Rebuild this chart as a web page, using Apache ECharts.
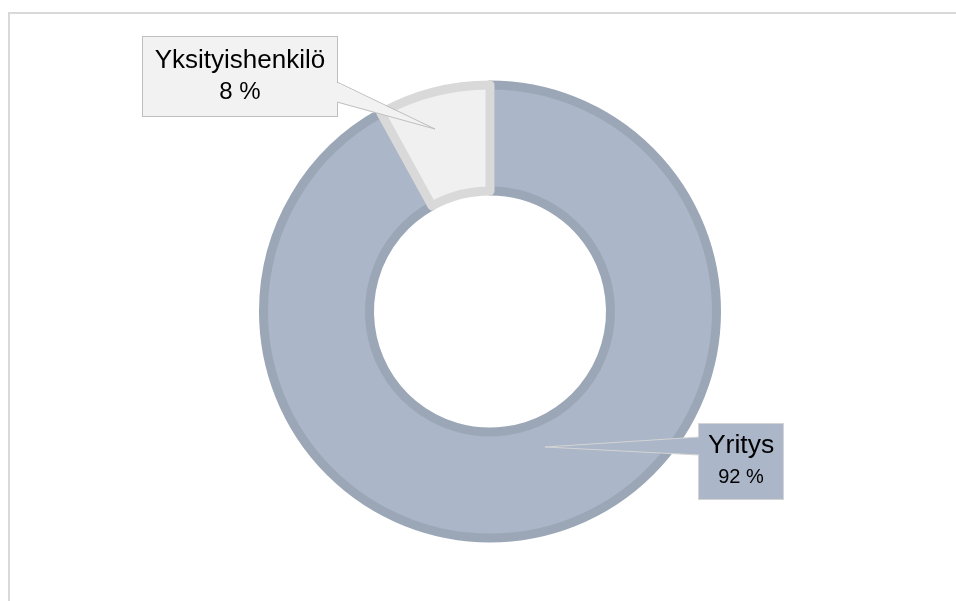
<!DOCTYPE html>
<html>
<head>
<meta charset="utf-8">
<script src="https://cdn.jsdelivr.net/npm/echarts@6/dist/echarts.min.js"></script>
<style>
html,body{margin:0;padding:0;background:#fff;}
#chart{width:956px;height:601px;}
</style>
</head>
<body>
<div id="chart"></div>
<script>
const categories = ['Yritys', 'Yksityishenkilö'];
const values = [92, 8];
const valueSuffix = ' %';

const fills = ['#ABB6C8', '#F0F0F0'];
const borders = ['#9BA7B6', '#D9D9D9'];
const labelBoxes = [
  { bg: '#ABB6C8', border: '#D4D4D4', w: 84, h: 75, nameSize: 26.5, valueSize: 20, lh: 31 },
  { bg: '#F2F2F2', border: '#BFBFBF', w: 194, h: 79, nameSize: 26, valueSize: 24, lh: 32 }
];
const labelCenters = [[741, 461.5], [240, 76.5]];

const chart = echarts.init(document.getElementById('chart'), null, { renderer: 'canvas' });

const data = categories.map((name, i) => {
  const b = labelBoxes[i];
  return {
    name: name,
    value: values[i],
    itemStyle: { color: fills[i], borderColor: borders[i], borderWidth: 9 },
    label: {
      backgroundColor: b.bg,
      borderColor: b.border,
      borderWidth: 1,
      padding: [(b.h - 2 * b.lh) / 2, 0],
      width: b.w,
      align: 'center',
      rich: {
        n: { fontSize: b.nameSize, lineHeight: b.lh, color: '#000', fontFamily: 'Liberation Sans', align: 'center', width: b.w },
        v: { fontSize: b.valueSize, lineHeight: b.lh, color: '#000', fontFamily: 'Liberation Sans', align: 'center', width: b.w }
      }
    }
  };
});

const option = {
  animation: false,
  backgroundColor: '#fff',
  graphic: [
    { type: 'rect', z: 0, shape: { x: 9, y: 13, width: 1000, height: 1000 },
      style: { fill: 'none', stroke: '#D9D9D9', lineWidth: 2 } },
    { type: 'polygon', z: 100, shape: { points: [[335, 82], [435, 129], [335, 102]] },
      style: { fill: '#F2F2F2', stroke: 'none' } },
    { type: 'polyline', z: 101, shape: { points: [[337, 82], [435, 129], [337, 102]] },
      style: { fill: 'none', stroke: '#BFBFBF', lineWidth: 1 } },
    { type: 'polygon', z: 100, shape: { points: [[701, 437], [545, 447], [701, 455]] },
      style: { fill: '#ABB6C8', stroke: 'none' } },
    { type: 'polyline', z: 101, shape: { points: [[699, 437], [545, 447], [699, 455]] },
      style: { fill: 'none', stroke: '#D4D4D4', lineWidth: 1 } }
  ],
  series: [{
    type: 'pie',
    center: [490, 311.5],
    radius: [120.5, 226.5],
    startAngle: 90,
    clockwise: true,
    avoidLabelOverlap: false,
    silent: true,
    emphasis: { disabled: true },
    label: {
      show: true,
      position: 'outside',
      formatter: function (p) { return '{n|' + p.name + '}\n{v|' + p.value + valueSuffix + '}'; }
    },
    labelLine: { show: false },
    labelLayout: function (params) {
      const c = labelCenters[params.dataIndex];
      return { x: c[0], y: c[1], align: 'center', verticalAlign: 'middle' };
    },
    data: data
  }]
};
chart.setOption(option);
</script>
</body>
</html>
